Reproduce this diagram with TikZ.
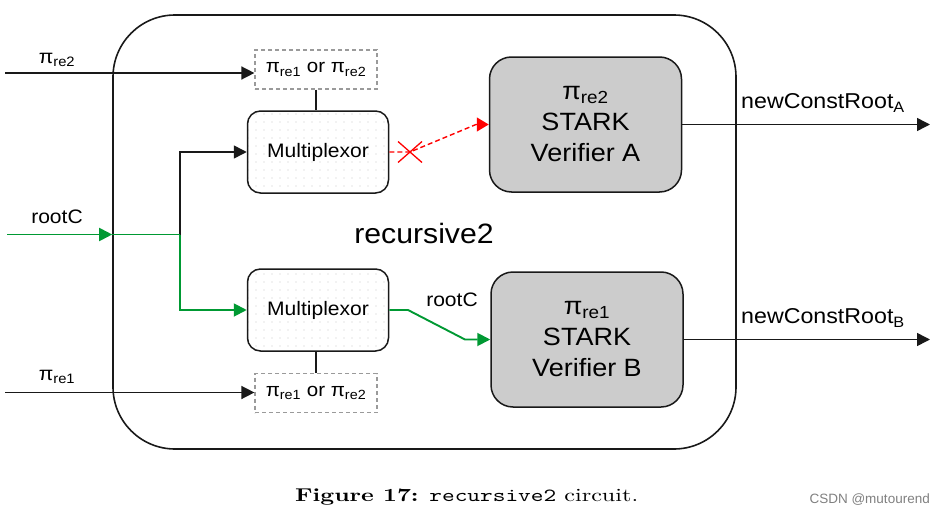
\documentclass[tikz,border=0pt]{standalone}
\usepackage{fontspec}
\usepackage{graphicx}
\usetikzlibrary{arrows.meta,patterns.meta,calc}
\newfontfamily\af[FakeStretch=1.08]{Liberation Sans}
\newfontfamily\wmfont{Liberation Sans}
\definecolor{lineg}{HTML}{009933}
\definecolor{liner}{HTML}{FF0000}
\definecolor{vfill}{HTML}{CCCCCC}
\definecolor{dgray}{HTML}{9A9A9A}
\newcommand\fsz[2]{\fontsize{#1}{#2}\selectfont}
\newcommand\pisub[1]{π\textsubscript{#1}}
\begin{document}
\begin{tikzpicture}[x=1pt,y=-1pt,
  font=\af,
  tip/.style={-{Triangle[length=13pt,width=13pt]}},
  conn/.style={line width=1.5pt, draw=black!90},
  gconn/.style={line width=1.9pt, draw=lineg},
  rconn/.style={line width=1.4pt, draw=liner, dash pattern=on 5pt off 3pt},
  outerbox/.style={draw=black!90, line width=1.6pt, rounded corners=62pt, minimum width=623pt, minimum height=434pt},
  muxbox/.style={draw=black!90, line width=1.5pt, rounded corners=13pt, minimum width=141pt, minimum height=82pt,
    pattern={Dots[distance=8pt,radius=0.55pt]}, pattern color=black!22, inner sep=0pt, font=\af\fsz{19.5}{22}},
  selbox/.style={draw=dgray, line width=1.2pt, dash pattern=on 4pt off 3pt, minimum width=122pt, minimum height=39pt, inner sep=0pt, font=\af\fsz{19}{22}},
  verbox/.style={draw=black!90, fill=vfill, line width=1.5pt, rounded corners=22pt, minimum width=192pt, minimum height=135pt,
    align=center, inner sep=0pt, font=\af\fsz{25}{31}},
  lbl/.style={font=\af\fsz{19.5}{22}, inner sep=0pt}
]
\useasboundingbox (0,0) rectangle (946,514);

% container
\node[outerbox] (outer) at (424.5,232) {};
\node[font=\af\fsz{28}{30}, inner sep=0pt] (rname) at (424,233) {recursive2};

% boxes
\node[selbox] (selA) at (316,69.5) {\pisub{re1} or \pisub{re2}};
\node[muxbox] (muxA) at (318,152) {Multiplexor};
\node[muxbox] (muxB) at (318,310) {Multiplexor};
\node[selbox] (selB) at (316,393) {\pisub{re1} or \pisub{re2}};
\node[verbox] (verA) at (585.5,124.5) {\pisub{re2}\\STARK\\Verifier A};
\node[verbox] (verB) at (587,339.5) {\pisub{re1}\\STARK\\Verifier B};

% labels
\node[lbl] (lpA) at (57,60) {\pisub{re2}};
\node[lbl] (lpB) at (57,377) {\pisub{re1}};
\node[lbl] (lroot) at (57,217) {rootC};
\node[lbl] (lroot2) at (452,300) {rootC};
\node[lbl, font=\af\fsz{21.5}{24}] (lnA) at (823,103) {newConstRoot\textsubscript{A}};
\node[lbl, font=\af\fsz{21.5}{24}] (lnB) at (823,318) {newConstRoot\textsubscript{B}};

% coordinates
\coordinate (inA) at (5,73);
\coordinate (inB) at (5,392.5);
\coordinate (rin) at (7,234.5);
\coordinate (rj) at (180,234.5);
\coordinate (xc) at (410,152);
\coordinate (rk) at (476,124.5);
\coordinate (gk1) at (408,310);
\coordinate (gk2) at (465,339.5);
\coordinate (oA) at (930,124.5);
\coordinate (oB) at (930,339.5);

% inputs
\draw[conn,tip] (inA) -- (inA -| selA.west);
\draw[conn,tip] (inB) -- (inB -| selB.west);
\draw[conn] (selA.south) -- (selA.south |- muxA.north);
\draw[conn] (selB.north) -- (selB.north |- muxB.south);

% rootC
\draw[conn,tip] (rj) |- (muxA.west);
\draw[gconn,tip] (rin) -- (rin -| outer.west);
\draw[gconn] (rin -| outer.west) -- (rj);
\draw[gconn,tip] (rj) |- (muxB.west);

% mux to verifiers
\draw[rconn,-{Triangle[length=12pt,width=14pt]}] (muxA.east) -- (xc) -- (rk) -- (verA.west);
\draw[draw=liner, line width=1.3pt] ($(xc)+(-12,-10.5)$) -- ($(xc)+(12,10.5)$)
  ($(xc)+(-12,10.5)$) -- ($(xc)+(12,-10.5)$);
\draw[gconn,tip] (muxB.east) -- (gk1) -- (gk2) -- (verB.west);

% outputs
\draw[conn,tip] (verA.east) -- (oA);
\draw[conn,tip] (verB.east) -- (oB);

% caption
\node[anchor=base west, inner sep=0pt, font=\normalfont] (cap) at (295,501)
  {\resizebox{343pt}{12.7pt}{\textbf{Figure 17:} \texttt{recursive2} circuit.}};
\node[anchor=base east, inner sep=0pt, text=black!50, font=\wmfont\fsz{13.5}{15}] (wm) at (930,503) {CSDN @mutourend};
\end{tikzpicture}
\end{document}
